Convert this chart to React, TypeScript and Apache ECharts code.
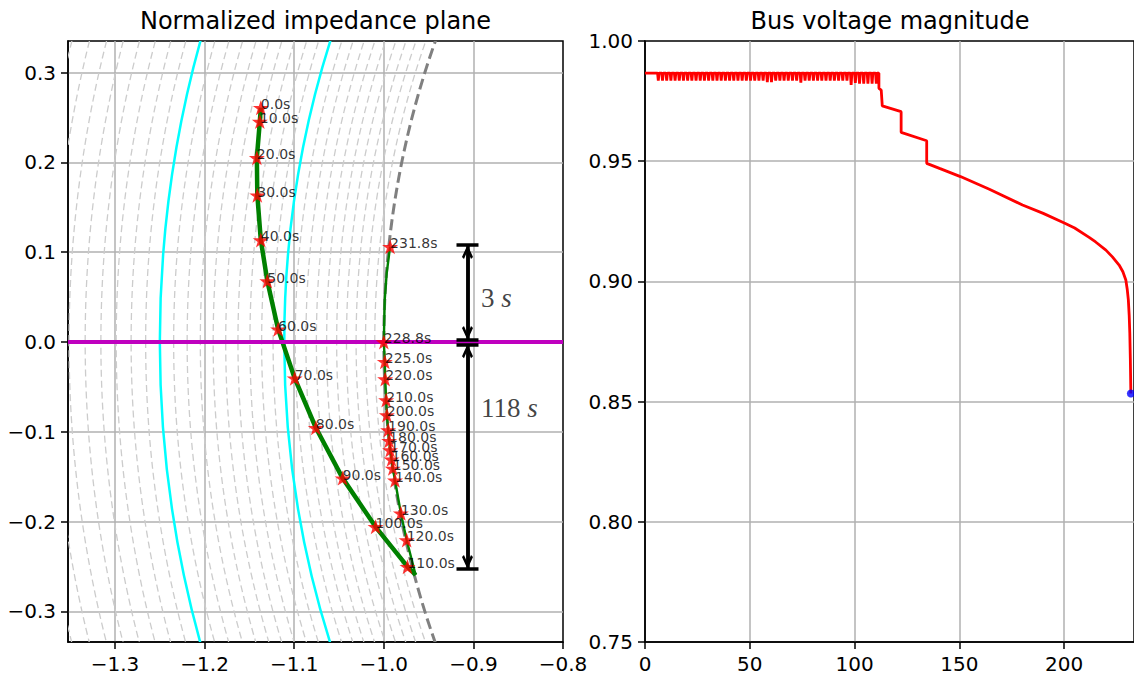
import React, { useEffect, useRef } from 'react';
import * as echarts from 'echarts';

const CHART_W = 1134;
const CHART_H = 675;

const TITLE_LEFT = 'Normalized impedance plane';
const TITLE_RIGHT = 'Bus voltage magnitude';

// ---------- Impedance plane ----------
const impXTicks = [-1.3, -1.2, -1.1, -1.0, -0.9, -0.8];
const impYTicks = [-0.3, -0.2, -0.1, 0.0, 0.1, 0.2, 0.3];

// voltage levels drawn as circles |z| = 1/v
const thinLevels = [0.70, 0.71, 0.72, 0.73, 0.74, 0.75, 0.76, 0.77, 0.78, 0.79, 0.81, 0.82, 0.83, 0.84, 0.85, 0.86, 0.87, 0.88, 0.89, 0.91, 0.92, 0.93, 0.94, 0.95, 0.96, 0.97, 0.98, 0.99];
const cyanLevels = [0.8, 0.9];
const unitLevels = [1.0];

// labelled samples (red stars)
const starLabels = ['0.0s', '10.0s', '20.0s', '30.0s', '40.0s', '50.0s', '60.0s', '70.0s', '80.0s', '90.0s', '100.0s', '110.0s', '120.0s', '130.0s', '140.0s', '150.0s', '160.0s', '170.0s', '180.0s', '190.0s', '200.0s', '210.0s', '220.0s', '225.0s', '228.8s', '231.8s'];
const starX = [-1.1373, -1.1384, -1.1417, -1.1412, -1.1373, -1.1300, -1.1180, -1.0995, -1.0759, -1.0460, -1.0092, -0.9736, -0.9745, -0.9810, -0.9875, -0.9900, -0.9914, -0.9930, -0.9941, -0.9952, -0.9966, -0.9974, -0.9985, -0.9989, -1.0000, -0.9930];
const starY = [0.2610, 0.2455, 0.2052, 0.1635, 0.1136, 0.0679, 0.0143, -0.0403, -0.0955, -0.1516, -0.2058, -0.2502, -0.2205, -0.1906, -0.1540, -0.1407, -0.1306, -0.1203, -0.1099, -0.0980, -0.0813, -0.0646, -0.0412, -0.0219, 0.0000, 0.1062];

// trajectory (first, fast part and second, slow part)
const trajFastX = [-1.1373, -1.1384, -1.1417, -1.1412, -1.1373, -1.1300, -1.1180, -1.0995, -1.0759, -1.0460, -1.0092, -0.9736, -0.9645];
const trajFastY = [0.2610, 0.2455, 0.2052, 0.1635, 0.1136, 0.0679, 0.0143, -0.0403, -0.0955, -0.1516, -0.2058, -0.2502, -0.2595];
const trajSlowX = [-0.9645, -0.9745, -0.9810, -0.9875, -0.9900, -0.9914, -0.9930, -0.9941, -0.9952, -0.9966, -0.9974, -0.9985, -0.9989, -1.0000, -0.9990, -0.9968, -0.9930];
const trajSlowY = [-0.2595, -0.2205, -0.1906, -0.1540, -0.1407, -0.1306, -0.1203, -0.1099, -0.0980, -0.0813, -0.0646, -0.0412, -0.0219, 0.0000, 0.0468, 0.0765, 0.1062];

// duration brackets
const bracketX = -0.9066;
const bracketTop = [0.108, -0.0026];
const bracketBottom = [0.0022, -0.2528];
const bracketText = ['3', '118'];
const bracketTextX = -0.8915;
const bracketTextY = [0.049, -0.0735];

// ---------- Bus voltage ----------
const vXTicks = [0, 50, 100, 150, 200];
const vYTicks = [0.75, 0.80, 0.85, 0.90, 0.95, 1.00];
const vBase = 0.9866;
const dipTimes = [6, 8, 10, 12, 14, 16, 18, 20, 22, 24, 26, 28, 30, 32, 34, 36, 38, 40, 42, 44, 46, 48, 50, 52, 54, 56, 58, 60, 62, 64, 66, 68, 70, 72, 74, 76, 78, 80, 82, 84, 86, 88, 90, 92, 94, 96, 98, 100, 102, 104, 106, 108, 110];
const dipValues = [
  0.9835, 0.9835, 0.9835, 0.9835, 0.9835, 0.9835, 0.9835, 0.9835, 0.9835, 0.9835,
  0.9835, 0.9835, 0.9835, 0.9835, 0.9835, 0.9835, 0.9835, 0.9835, 0.9835, 0.9835,
  0.9835, 0.9835, 0.9835, 0.9835, 0.9835, 0.9835, 0.9829, 0.9829, 0.9835, 0.9835,
  0.9835, 0.9835, 0.9835, 0.9835, 0.9827, 0.9835, 0.9835, 0.9835, 0.9835, 0.9835,
  0.9835, 0.9835, 0.9835, 0.9835, 0.9835, 0.9835, 0.9817, 0.9826, 0.9823, 0.9823,
  0.9823, 0.9823, 0.9823,
];
// stepped part after the ripples, then the decline up to collapse
const tailTimes = [111.6, 111.6, 112.7, 113.2, 122.2, 122.2, 134.4, 134.4, 140.5, 150.5, 164.3, 180.1, 190.0, 200.3, 205.0, 211.9, 215.0, 219.9, 223.0, 226.2, 228.0, 229.4, 230.1, 230.6, 231.0, 231.3, 231.55, 231.8];
const tailValues = [0.9866, 0.9803, 0.9796, 0.9730, 0.9706, 0.9620, 0.9585, 0.9491, 0.9470, 0.9436, 0.9383, 0.9318, 0.9283, 0.9242, 0.9222, 0.9183, 0.9164, 0.9130, 0.9102, 0.9068, 0.9040, 0.9006, 0.8965, 0.8923, 0.8860, 0.8784, 0.8680, 0.8534];

const STAR = 'path://M50,0L61.8,35.1L98.1,35.1L68.8,56.7L79.4,90.5L50,69.5L20.6,90.5L31.2,56.7L1.9,35.1L38.2,35.1Z';
const CHEVRON = 'path://M5,0L10,8.5L8.2,10L5,4.2L1.8,10L0,8.5Z';

const FONT = 'DejaVu Sans';
const minus = (s: string) => s.replace('-', '\u2212');

// layout
const G0 = { left: 68, top: 41, width: 495, height: 601 };
const G1 = { left: 645, top: 41, width: 490, height: 601 };
const X0 = [-1.3525, -0.8];
const Y0 = [-0.3341, 0.3352];
const X1 = [0, 233.3];
const Y1 = [0.75, 1.0];

function axisBase(ticks: number[], fmt: (v: number) => string, minLine: boolean, maxLine: boolean) {
  return {
    axisLine: { show: true, onZero: false, lineStyle: { color: '#000', width: 1.5 } },
    axisTick: { show: true, length: 7, customValues: ticks, lineStyle: { color: '#000', width: 1.5 } },
    axisLabel: { color: '#000', fontSize: 20, fontFamily: FONT, margin: 12, customValues: ticks, formatter: fmt },
    splitLine: { show: true, showMinLine: minLine, showMaxLine: maxLine, lineStyle: { color: '#b0b0b0', width: 1.5 } },
  };
}

function circleSeries(levels: number[], color: string, width: number, dash: number[] | null, z: number) {
  return {
    type: 'custom',
    xAxisIndex: 0,
    yAxisIndex: 0,
    clip: true,
    silent: true,
    z,
    data: levels.map((v) => [0, 0, v]),
    renderItem: (_p: any, api: any) => {
      const r = 1 / api.value(2);
      const c = api.coord([0, 0]);
      const s = api.size([r, r]);
      return {
        type: 'ellipse',
        shape: { cx: c[0], cy: c[1], rx: s[0], ry: s[1] },
        style: { fill: 'none', stroke: color, lineWidth: width, lineDash: dash || undefined },
      };
    },
  };
}

export default function App() {
  const ref = useRef<HTMLDivElement>(null);

  useEffect(() => {
    if (!ref.current) return;
    const chart = echarts.init(ref.current, null, { renderer: 'svg', width: CHART_W, height: CHART_H });

    const pxPerUnitY = G0.height / (Y0[1] - Y0[0]);
    const headInset = 7 / pxPerUnitY;
    const capHalf = 11 / (G0.width / (X0[1] - X0[0]));

    const bracketLines: any[] = [];
    bracketTop.forEach((top, i) => {
      const bot = bracketBottom[i];
      bracketLines.push([{ coord: [bracketX, top] }, { coord: [bracketX, bot] }]);
      bracketLines.push([
        { coord: [bracketX, top - headInset], symbol: CHEVRON },
        { coord: [bracketX, bot + headInset], symbol: CHEVRON },
      ]);
      bracketLines.push([{ coord: [bracketX - capHalf, top] }, { coord: [bracketX + capHalf, top] }]);
      bracketLines.push([{ coord: [bracketX - capHalf, bot] }, { coord: [bracketX + capHalf, bot] }]);
    });

    const voltageData: number[][] = [[0, vBase]];
    dipTimes.forEach((t, i) => {
      voltageData.push([t, vBase], [t + 0.35, dipValues[i]], [t + 0.7, vBase]);
    });
    tailTimes.forEach((t, i) => voltageData.push([t, tailValues[i]]));

    const fmtImp = (v: number) => minus(Math.abs(v) < 1e-9 ? '0.0' : v.toFixed(1));

    const option: any = {
      animation: false,
      backgroundColor: '#fff',
      graphic: [
        {
          type: 'text', x: G0.left + G0.width / 2, y: 21, silent: true,
          style: { text: TITLE_LEFT, fontFamily: FONT, fontSize: 24, fill: '#000', align: 'center', verticalAlign: 'middle' },
        },
        {
          type: 'text', x: G1.left + G1.width / 2, y: 21, silent: true,
          style: { text: TITLE_RIGHT, fontFamily: FONT, fontSize: 24, fill: '#000', align: 'center', verticalAlign: 'middle' },
        },
      ],
      grid: [
        { ...G0, show: true, borderColor: '#000', borderWidth: 1.5, backgroundColor: 'transparent', containLabel: false },
        { ...G1, show: true, borderColor: '#000', borderWidth: 1.5, backgroundColor: 'transparent', containLabel: false },
      ],
      xAxis: [
        { type: 'value', gridIndex: 0, min: X0[0], max: X0[1], ...axisBase(impXTicks, fmtImp, true, false) },
        { type: 'value', gridIndex: 1, min: X1[0], max: X1[1], ...axisBase(vXTicks, (v: number) => String(Math.round(v)), false, true) },
      ],
      yAxis: [
        { type: 'value', gridIndex: 0, min: Y0[0], max: Y0[1], ...axisBase(impYTicks, fmtImp, true, true) },
        { type: 'value', gridIndex: 1, min: Y1[0], max: Y1[1], ...axisBase(vYTicks, (v: number) => v.toFixed(2), false, false) },
      ],
      series: [
        circleSeries(thinLevels, '#cccccc', 1.3, [7, 4], 1),
        circleSeries(cyanLevels, '#00ffff', 2.5, null, 2),
        circleSeries(unitLevels, '#808080', 3, [11, 5], 2),
        {
          type: 'line', xAxisIndex: 0, yAxisIndex: 0, data: [], z: 3, silent: true,
          markLine: {
            silent: true, symbol: ['none', 'none'], animation: false,
            label: { show: false },
            lineStyle: { color: '#bf00bf', width: 4, type: 'solid' },
            data: [{ yAxis: 0 }],
          },
        },
        {
          type: 'line', xAxisIndex: 0, yAxisIndex: 0, z: 4, symbol: 'none', silent: true,
          lineStyle: { color: '#008000', width: 4.5 },
          data: trajFastX.map((x, i) => [x, trajFastY[i]]),
        },
        {
          type: 'line', xAxisIndex: 0, yAxisIndex: 0, z: 4, symbol: 'none', silent: true,
          lineStyle: { color: '#008000', width: 2.4 },
          data: trajSlowX.map((x, i) => [x, trajSlowY[i]]),
        },
        {
          type: 'scatter', xAxisIndex: 0, yAxisIndex: 0, z: 5, silent: true,
          symbol: STAR, symbolSize: [16, 15],
          itemStyle: { color: '#ff0000' },
          label: {
            show: true, position: [8, 11], align: 'left', verticalAlign: 'bottom',
            fontFamily: FONT, fontSize: 14, color: '#000',
            formatter: (p: any) => p.name,
          },
          data: starX.map((x, i) => ({ value: [x, starY[i]], name: starLabels[i] })),
        },
        {
          type: 'line', xAxisIndex: 0, yAxisIndex: 0, data: [], z: 6, silent: true,
          markLine: {
            silent: true, symbol: ['none', 'none'], symbolSize: [11, 14], animation: false,
            label: { show: false },
            lineStyle: { color: '#000', width: 3.5, type: 'solid' },
            data: bracketLines,
          },
        },
        {
          type: 'scatter', xAxisIndex: 0, yAxisIndex: 0, z: 6, silent: true,
          symbolSize: 0,
          label: {
            show: true, position: 'right', distance: 0,
            formatter: (p: any) => `{n|${p.name}}{i| s}`,
            rich: {
              n: { fontFamily: 'Liberation Serif', fontSize: 27, color: '#111' },
              i: { fontFamily: 'Liberation Serif', fontStyle: 'italic', fontSize: 27, color: '#111' },
            },
          },
          data: bracketText.map((t, i) => ({ value: [bracketTextX, bracketTextY[i]], name: t })),
        },
        {
          type: 'line', xAxisIndex: 1, yAxisIndex: 1, z: 4, symbol: 'none', silent: true,
          lineStyle: { color: '#ff0000', width: 2.8 },
          data: voltageData,
        },
        {
          type: 'scatter', xAxisIndex: 1, yAxisIndex: 1, z: 5, silent: true,
          symbol: 'circle', symbolSize: 8,
          itemStyle: { color: '#0000ff' },
          data: [[tailTimes[tailTimes.length - 1], tailValues[tailValues.length - 1]]],
        },
      ],
    };

    chart.setOption(option);
    return () => chart.dispose();
  }, []);

  return (
    <div
      ref={ref}
      style={{ position: 'fixed', left: 0, top: 0, width: CHART_W, height: CHART_H, background: '#fff' }}
    />
  );
}
